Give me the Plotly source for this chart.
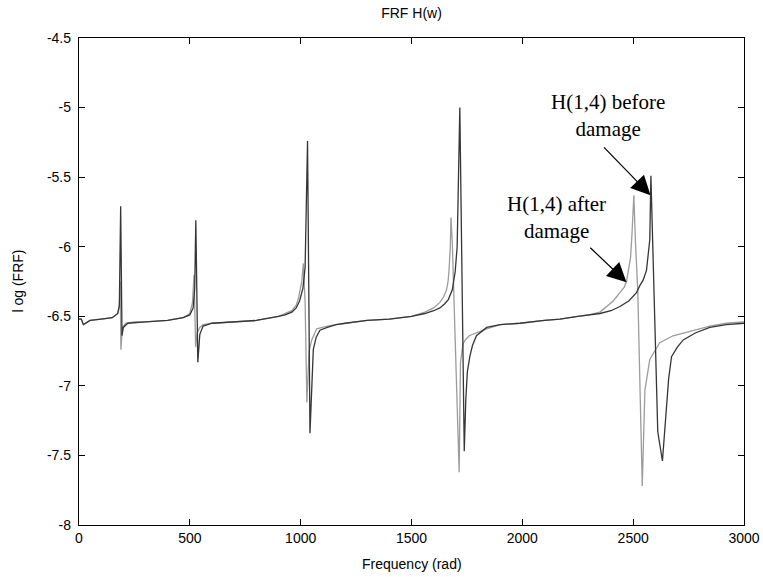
import plotly.graph_objects as go

# ---- data ----
freq_before = [0, 10, 20, 30, 50, 100, 150, 175, 182, 188, 194, 200, 220, 300, 400, 470, 500, 515, 522, 527,
               536, 545, 560, 600, 700, 800, 900, 930, 960, 980, 995, 1010, 1020, 1031, 1042, 1050, 1057, 1070,
               1087, 1120, 1160, 1200, 1300, 1400, 1500, 1560, 1600, 1628, 1650, 1666, 1684, 1697, 1706, 1718,
               1738, 1745, 1752, 1763, 1775, 1793, 1815, 1839, 1900, 1989, 2100, 2170, 2250, 2300, 2350, 2400,
               2440, 2480, 2515, 2530, 2545, 2560, 2568, 2575, 2580, 2611, 2632, 2645, 2660, 2673, 2700, 2726,
               2780, 2846, 2920, 3000]
h_before = [-6.52, -6.52, -6.56, -6.55, -6.53, -6.52, -6.51, -6.48, -6.42, -5.71, -6.64, -6.58, -6.55, -6.54, -6.53,
            -6.51, -6.49, -6.44, -6.30, -5.81, -6.83, -6.63, -6.57, -6.55, -6.54, -6.53, -6.50, -6.49, -6.47, -6.44,
            -6.39, -6.30, -6.15, -5.24, -7.34, -6.95, -6.74, -6.65, -6.60, -6.58, -6.56, -6.55, -6.53, -6.52, -6.50,
            -6.48, -6.46, -6.44, -6.41, -6.38, -6.31, -6.18, -6.00, -5.00, -7.47, -7.10, -6.90, -6.79, -6.71, -6.64,
            -6.61, -6.58, -6.56, -6.55, -6.53, -6.52, -6.50, -6.49, -6.48, -6.46, -6.43, -6.39, -6.33, -6.28, -6.24,
            -6.17, -6.05, -5.95, -5.49, -7.33, -7.54, -7.25, -6.95, -6.79, -6.72, -6.67, -6.62, -6.58, -6.56, -6.55]

freq_after = [0, 10, 20, 30, 50, 100, 150, 175, 182, 186, 189, 196, 210, 250, 300, 400, 470, 500, 512, 519, 526,
              533, 545, 560, 600, 700, 800, 900, 930, 960, 980, 990, 1005, 1012, 1020, 1028, 1038, 1050, 1072,
              1120, 1160, 1200, 1300, 1400, 1500, 1560, 1600, 1628, 1645, 1658, 1665, 1670, 1675, 1678, 1684,
              1715, 1721, 1732, 1743, 1760, 1789, 1839, 1900, 1989, 2100, 2170, 2250, 2300, 2350, 2380, 2410,
              2440, 2460, 2470, 2480, 2488, 2495, 2503, 2510, 2521, 2541, 2548, 2553, 2575, 2620, 2680, 2726,
              2780, 2846, 2920, 3000]
h_after = [-6.52, -6.52, -6.56, -6.55, -6.53, -6.52, -6.51, -6.48, -6.43, -6.25, -6.74, -6.58, -6.55, -6.54, -6.54,
           -6.53, -6.51, -6.48, -6.40, -6.20, -6.72, -6.62, -6.58, -6.56, -6.55, -6.54, -6.53, -6.50, -6.48, -6.46,
           -6.42, -6.37, -6.25, -6.12, -6.40, -7.12, -6.75, -6.67, -6.59, -6.57, -6.56, -6.55, -6.53, -6.52, -6.50,
           -6.47, -6.44, -6.40, -6.36, -6.31, -6.25, -6.15, -6.00, -5.79, -5.97, -7.62, -6.83, -6.70, -6.67, -6.64,
           -6.62, -6.59, -6.56, -6.55, -6.53, -6.52, -6.50, -6.49, -6.47, -6.43, -6.39, -6.33, -6.29, -6.25, -6.17,
           -6.08, -5.90, -5.63, -5.95, -6.33, -7.72, -7.25, -7.03, -6.81, -6.69, -6.64, -6.62, -6.60, -6.57, -6.55,
           -6.54]

y_tickvals = [-8, -7.5, -7, -6.5, -6, -5.5, -5, -4.5]
y_ticktext = ["-8", "-7.5", "-7", "-6.5", "-6", "-5.5", "-5", "-4.5"]
x_tickvals = [0, 500, 1000, 1500, 2000, 2500, 3000]
x_ticktext = ["0", "500", "1000", "1500", "2000", "2500", "3000"]

fig = go.Figure()
fig.add_trace(go.Scatter(x=freq_after, y=h_after, mode="lines",
                         line=dict(color="#9c9c9c", width=1.3), name="H(1,4) after damage"))
fig.add_trace(go.Scatter(x=freq_before, y=h_before, mode="lines",
                         line=dict(color="#363636", width=1.3), name="H(1,4) before damage"))

ann_font = dict(family="Liberation Serif, Times New Roman, serif", size=21, color="black")
fig.add_annotation(x=2386, y=-5.056, xref="x", yref="y", text="H(1,4) before<br>damage",
                   showarrow=False, font=ann_font, align="center")
fig.add_annotation(x=2155, y=-5.788, xref="x", yref="y", text="H(1,4) after<br>damage",
                   showarrow=False, font=ann_font, align="center")
fig.add_annotation(x=2578, y=-5.63, ax=2362, ay=-5.275, xref="x", yref="y", axref="x", ayref="y",
                   text="", showarrow=True, arrowhead=2, arrowsize=3.2, arrowwidth=1.2, arrowcolor="black")
fig.add_annotation(x=2470, y=-6.255, ax=2300, ay=-5.997, xref="x", yref="y", axref="x", ayref="y",
                   text="", showarrow=True, arrowhead=2, arrowsize=3.2, arrowwidth=1.2, arrowcolor="black")

axis_font = dict(family="Liberation Sans, Arial, sans-serif", size=14, color="black")
# axis titles as annotations for exact placement
fig.add_annotation(x=0.5, y=0, xref="paper", yref="paper", text="Frequency (rad)", showarrow=False,
                   font=axis_font, xanchor="center", yanchor="middle", yshift=-39)
fig.add_annotation(x=0, y=0.5, xref="paper", yref="paper", text="l og (FRF)", showarrow=False,
                   font=axis_font, textangle=-90, xanchor="center", yanchor="middle", xshift=-62)

fig.update_layout(
    width=763, height=577,
    margin=dict(l=79, r=19, t=38, b=52, autoexpand=False),
    paper_bgcolor="white", plot_bgcolor="white",
    showlegend=False,
    font=axis_font,
    title=dict(text="FRF H(w)", x=(79 + 744) / 2 / 763, xanchor="center", y=1 - 13 / 577, yanchor="middle",
               xref="container", yref="container", font=dict(size=14, color="black")),
)
fig.update_xaxes(range=[0, 3000], tickvals=x_tickvals, ticktext=x_ticktext, ticks="inside", ticklen=6,
                 tickcolor="black", showline=True, linecolor="black", linewidth=1.3, mirror="ticks",
                 showgrid=False, zeroline=False, tickfont=axis_font, automargin=False)
fig.update_yaxes(range=[-8, -4.5], tickvals=y_tickvals, ticktext=y_ticktext, ticks="inside", ticklen=6,
                 tickcolor="black", showline=True, linecolor="black", linewidth=1.3, mirror="ticks",
                 showgrid=False, zeroline=False, tickfont=axis_font, ticklabelstandoff=4, automargin=False)

# remove the default page margin so the figure sits at the window's top-left corner
fig.write_html("out.html", config={"displayModeBar": False},
               post_script="document.body.style.margin='0';")
